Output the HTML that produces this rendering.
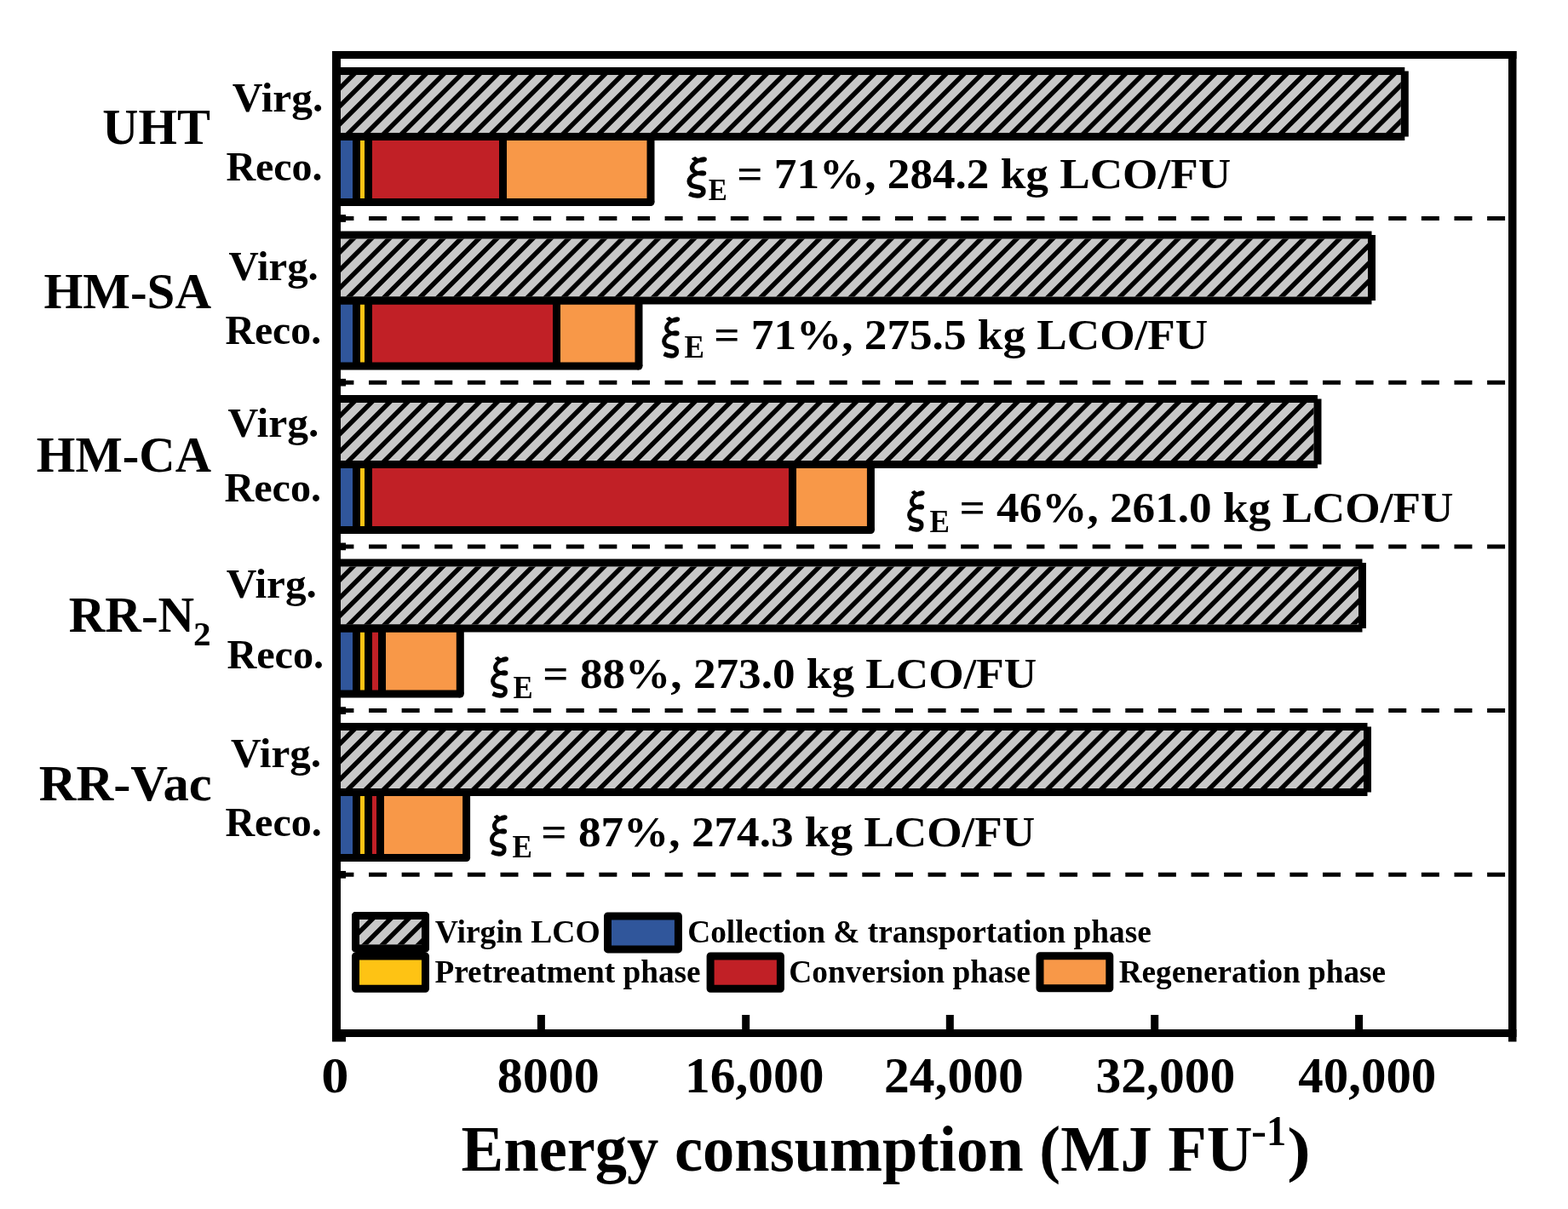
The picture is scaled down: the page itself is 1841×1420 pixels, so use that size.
<!DOCTYPE html>
<html><head><meta charset="utf-8"><style>html,body{margin:0;padding:0;background:#fff;overflow:hidden}svg{display:block}</style></head>
<body>
<svg width="1841" height="1420" viewBox="0 0 1841 1420">
<rect width="1841" height="1420" fill="#fff"/>
<clipPath id="hv0"><rect x="400" y="88.0" width="1244.8" height="68.0"/></clipPath>
<rect x="400" y="88.0" width="1244.8" height="68.0" fill="#C8C8C8"/>
<path clip-path="url(#hv0)" d="M301.49 159.00L375.49 85.00M322.54 159.00L396.54 85.00M343.60 159.00L417.60 85.00M364.66 159.00L438.66 85.00M385.71 159.00L459.71 85.00M406.77 159.00L480.77 85.00M427.83 159.00L501.83 85.00M448.88 159.00L522.88 85.00M469.94 159.00L543.94 85.00M491.00 159.00L565.00 85.00M512.06 159.00L586.06 85.00M533.11 159.00L607.11 85.00M554.17 159.00L628.17 85.00M575.23 159.00L649.23 85.00M596.28 159.00L670.28 85.00M617.34 159.00L691.34 85.00M638.40 159.00L712.40 85.00M659.45 159.00L733.45 85.00M680.51 159.00L754.51 85.00M701.57 159.00L775.57 85.00M722.63 159.00L796.63 85.00M743.68 159.00L817.68 85.00M764.74 159.00L838.74 85.00M785.80 159.00L859.80 85.00M806.85 159.00L880.85 85.00M827.91 159.00L901.91 85.00M848.97 159.00L922.97 85.00M870.02 159.00L944.02 85.00M891.08 159.00L965.08 85.00M912.14 159.00L986.14 85.00M933.20 159.00L1007.20 85.00M954.25 159.00L1028.25 85.00M975.31 159.00L1049.31 85.00M996.37 159.00L1070.37 85.00M1017.42 159.00L1091.42 85.00M1038.48 159.00L1112.48 85.00M1059.54 159.00L1133.54 85.00M1080.60 159.00L1154.60 85.00M1101.65 159.00L1175.65 85.00M1122.71 159.00L1196.71 85.00M1143.77 159.00L1217.77 85.00M1164.82 159.00L1238.82 85.00M1185.88 159.00L1259.88 85.00M1206.94 159.00L1280.94 85.00M1227.99 159.00L1301.99 85.00M1249.05 159.00L1323.05 85.00M1270.11 159.00L1344.11 85.00M1291.16 159.00L1365.16 85.00M1312.22 159.00L1386.22 85.00M1333.28 159.00L1407.28 85.00M1354.34 159.00L1428.34 85.00M1375.39 159.00L1449.39 85.00M1396.45 159.00L1470.45 85.00M1417.51 159.00L1491.51 85.00M1438.56 159.00L1512.56 85.00M1459.62 159.00L1533.62 85.00M1480.68 159.00L1554.68 85.00M1501.73 159.00L1575.73 85.00M1522.79 159.00L1596.79 85.00M1543.85 159.00L1617.85 85.00M1564.91 159.00L1638.91 85.00M1585.96 159.00L1659.96 85.00M1607.02 159.00L1681.02 85.00M1628.08 159.00L1702.08 85.00M1649.13 159.00L1723.13 85.00" stroke="#000" stroke-width="5.515" fill="none"/>
<rect x="395.00" y="160.50" width="23.50" height="77.00" fill="#30569B"/>
<rect x="418.50" y="160.50" width="14.00" height="77.00" fill="#FEC314"/>
<rect x="432.50" y="160.50" width="158.00" height="77.00" fill="#C12026"/>
<rect x="590.50" y="160.50" width="173.50" height="77.00" fill="#F89848"/>
<rect x="395.00" y="79.00" width="1254.30" height="9.00" fill="#000"/>
<rect x="395.00" y="156.00" width="1254.30" height="9.00" fill="#000"/>
<rect x="1644.80" y="83.50" width="9.00" height="77.00" fill="#000"/>
<rect x="390.50" y="83.50" width="9.00" height="77.00" fill="#000"/>
<rect x="395.00" y="156.00" width="369.00" height="9.00" fill="#000"/>
<rect x="395.00" y="233.00" width="369.00" height="9.00" fill="#000"/>
<rect x="759.50" y="160.50" width="9.00" height="77.00" fill="#000"/>
<rect x="390.50" y="160.50" width="9.00" height="77.00" fill="#000"/>
<circle cx="764.0" cy="237.5" r="4.5" fill="#000"/>
<rect x="414.00" y="160.50" width="9.00" height="77.00" fill="#000"/>
<rect x="428.00" y="160.50" width="9.00" height="77.00" fill="#000"/>
<rect x="586.00" y="160.50" width="9.00" height="77.00" fill="#000"/>
<clipPath id="hv1"><rect x="400" y="280.5" width="1206.0" height="68.0"/></clipPath>
<rect x="400" y="280.5" width="1206.0" height="68.0" fill="#C8C8C8"/>
<path clip-path="url(#hv1)" d="M301.49 351.50L375.49 277.50M322.54 351.50L396.54 277.50M343.60 351.50L417.60 277.50M364.66 351.50L438.66 277.50M385.71 351.50L459.71 277.50M406.77 351.50L480.77 277.50M427.83 351.50L501.83 277.50M448.88 351.50L522.88 277.50M469.94 351.50L543.94 277.50M491.00 351.50L565.00 277.50M512.06 351.50L586.06 277.50M533.11 351.50L607.11 277.50M554.17 351.50L628.17 277.50M575.23 351.50L649.23 277.50M596.28 351.50L670.28 277.50M617.34 351.50L691.34 277.50M638.40 351.50L712.40 277.50M659.45 351.50L733.45 277.50M680.51 351.50L754.51 277.50M701.57 351.50L775.57 277.50M722.63 351.50L796.63 277.50M743.68 351.50L817.68 277.50M764.74 351.50L838.74 277.50M785.80 351.50L859.80 277.50M806.85 351.50L880.85 277.50M827.91 351.50L901.91 277.50M848.97 351.50L922.97 277.50M870.03 351.50L944.03 277.50M891.08 351.50L965.08 277.50M912.14 351.50L986.14 277.50M933.20 351.50L1007.20 277.50M954.25 351.50L1028.25 277.50M975.31 351.50L1049.31 277.50M996.37 351.50L1070.37 277.50M1017.42 351.50L1091.42 277.50M1038.48 351.50L1112.48 277.50M1059.54 351.50L1133.54 277.50M1080.60 351.50L1154.60 277.50M1101.65 351.50L1175.65 277.50M1122.71 351.50L1196.71 277.50M1143.77 351.50L1217.77 277.50M1164.82 351.50L1238.82 277.50M1185.88 351.50L1259.88 277.50M1206.94 351.50L1280.94 277.50M1227.99 351.50L1301.99 277.50M1249.05 351.50L1323.05 277.50M1270.11 351.50L1344.11 277.50M1291.16 351.50L1365.16 277.50M1312.22 351.50L1386.22 277.50M1333.28 351.50L1407.28 277.50M1354.34 351.50L1428.34 277.50M1375.39 351.50L1449.39 277.50M1396.45 351.50L1470.45 277.50M1417.51 351.50L1491.51 277.50M1438.56 351.50L1512.56 277.50M1459.62 351.50L1533.62 277.50M1480.68 351.50L1554.68 277.50M1501.74 351.50L1575.74 277.50M1522.79 351.50L1596.79 277.50M1543.85 351.50L1617.85 277.50M1564.91 351.50L1638.91 277.50M1585.96 351.50L1659.96 277.50M1607.02 351.50L1681.02 277.50" stroke="#000" stroke-width="5.515" fill="none"/>
<rect x="395.00" y="353.00" width="23.50" height="77.00" fill="#30569B"/>
<rect x="418.50" y="353.00" width="14.00" height="77.00" fill="#FEC314"/>
<rect x="432.50" y="353.00" width="221.00" height="77.00" fill="#C12026"/>
<rect x="653.50" y="353.00" width="96.50" height="77.00" fill="#F89848"/>
<rect x="395.00" y="271.50" width="1215.50" height="9.00" fill="#000"/>
<rect x="395.00" y="348.50" width="1215.50" height="9.00" fill="#000"/>
<rect x="1606.00" y="276.00" width="9.00" height="77.00" fill="#000"/>
<rect x="390.50" y="276.00" width="9.00" height="77.00" fill="#000"/>
<rect x="395.00" y="348.50" width="355.00" height="9.00" fill="#000"/>
<rect x="395.00" y="425.50" width="355.00" height="9.00" fill="#000"/>
<rect x="745.50" y="353.00" width="9.00" height="77.00" fill="#000"/>
<rect x="390.50" y="353.00" width="9.00" height="77.00" fill="#000"/>
<circle cx="750.0" cy="430.0" r="4.5" fill="#000"/>
<rect x="414.00" y="353.00" width="9.00" height="77.00" fill="#000"/>
<rect x="428.00" y="353.00" width="9.00" height="77.00" fill="#000"/>
<rect x="649.00" y="353.00" width="9.00" height="77.00" fill="#000"/>
<clipPath id="hv2"><rect x="400" y="473.0" width="1142.5" height="68.0"/></clipPath>
<rect x="400" y="473.0" width="1142.5" height="68.0" fill="#C8C8C8"/>
<path clip-path="url(#hv2)" d="M301.49 544.00L375.49 470.00M322.54 544.00L396.54 470.00M343.60 544.00L417.60 470.00M364.66 544.00L438.66 470.00M385.71 544.00L459.71 470.00M406.77 544.00L480.77 470.00M427.83 544.00L501.83 470.00M448.88 544.00L522.88 470.00M469.94 544.00L543.94 470.00M491.00 544.00L565.00 470.00M512.06 544.00L586.06 470.00M533.11 544.00L607.11 470.00M554.17 544.00L628.17 470.00M575.23 544.00L649.23 470.00M596.28 544.00L670.28 470.00M617.34 544.00L691.34 470.00M638.40 544.00L712.40 470.00M659.45 544.00L733.45 470.00M680.51 544.00L754.51 470.00M701.57 544.00L775.57 470.00M722.63 544.00L796.63 470.00M743.68 544.00L817.68 470.00M764.74 544.00L838.74 470.00M785.80 544.00L859.80 470.00M806.85 544.00L880.85 470.00M827.91 544.00L901.91 470.00M848.97 544.00L922.97 470.00M870.03 544.00L944.03 470.00M891.08 544.00L965.08 470.00M912.14 544.00L986.14 470.00M933.20 544.00L1007.20 470.00M954.25 544.00L1028.25 470.00M975.31 544.00L1049.31 470.00M996.37 544.00L1070.37 470.00M1017.42 544.00L1091.42 470.00M1038.48 544.00L1112.48 470.00M1059.54 544.00L1133.54 470.00M1080.60 544.00L1154.60 470.00M1101.65 544.00L1175.65 470.00M1122.71 544.00L1196.71 470.00M1143.77 544.00L1217.77 470.00M1164.82 544.00L1238.82 470.00M1185.88 544.00L1259.88 470.00M1206.94 544.00L1280.94 470.00M1227.99 544.00L1301.99 470.00M1249.05 544.00L1323.05 470.00M1270.11 544.00L1344.11 470.00M1291.16 544.00L1365.16 470.00M1312.22 544.00L1386.22 470.00M1333.28 544.00L1407.28 470.00M1354.34 544.00L1428.34 470.00M1375.39 544.00L1449.39 470.00M1396.45 544.00L1470.45 470.00M1417.51 544.00L1491.51 470.00M1438.56 544.00L1512.56 470.00M1459.62 544.00L1533.62 470.00M1480.68 544.00L1554.68 470.00M1501.74 544.00L1575.74 470.00M1522.79 544.00L1596.79 470.00M1543.85 544.00L1617.85 470.00" stroke="#000" stroke-width="5.515" fill="none"/>
<rect x="395.00" y="545.50" width="23.50" height="77.00" fill="#30569B"/>
<rect x="418.50" y="545.50" width="14.00" height="77.00" fill="#FEC314"/>
<rect x="432.50" y="545.50" width="498.00" height="77.00" fill="#C12026"/>
<rect x="930.50" y="545.50" width="91.90" height="77.00" fill="#F89848"/>
<rect x="395.00" y="464.00" width="1152.00" height="9.00" fill="#000"/>
<rect x="395.00" y="541.00" width="1152.00" height="9.00" fill="#000"/>
<rect x="1542.50" y="468.50" width="9.00" height="77.00" fill="#000"/>
<rect x="390.50" y="468.50" width="9.00" height="77.00" fill="#000"/>
<rect x="395.00" y="541.00" width="627.40" height="9.00" fill="#000"/>
<rect x="395.00" y="618.00" width="627.40" height="9.00" fill="#000"/>
<rect x="1017.90" y="545.50" width="9.00" height="77.00" fill="#000"/>
<rect x="390.50" y="545.50" width="9.00" height="77.00" fill="#000"/>
<circle cx="1022.4" cy="622.5" r="4.5" fill="#000"/>
<rect x="414.00" y="545.50" width="9.00" height="77.00" fill="#000"/>
<rect x="428.00" y="545.50" width="9.00" height="77.00" fill="#000"/>
<rect x="926.00" y="545.50" width="9.00" height="77.00" fill="#000"/>
<clipPath id="hv3"><rect x="400" y="665.5" width="1195.0" height="68.0"/></clipPath>
<rect x="400" y="665.5" width="1195.0" height="68.0" fill="#C8C8C8"/>
<path clip-path="url(#hv3)" d="M301.49 736.50L375.49 662.50M322.54 736.50L396.54 662.50M343.60 736.50L417.60 662.50M364.66 736.50L438.66 662.50M385.71 736.50L459.71 662.50M406.77 736.50L480.77 662.50M427.83 736.50L501.83 662.50M448.89 736.50L522.89 662.50M469.94 736.50L543.94 662.50M491.00 736.50L565.00 662.50M512.06 736.50L586.06 662.50M533.11 736.50L607.11 662.50M554.17 736.50L628.17 662.50M575.23 736.50L649.23 662.50M596.28 736.50L670.28 662.50M617.34 736.50L691.34 662.50M638.40 736.50L712.40 662.50M659.46 736.50L733.46 662.50M680.51 736.50L754.51 662.50M701.57 736.50L775.57 662.50M722.63 736.50L796.63 662.50M743.68 736.50L817.68 662.50M764.74 736.50L838.74 662.50M785.80 736.50L859.80 662.50M806.85 736.50L880.85 662.50M827.91 736.50L901.91 662.50M848.97 736.50L922.97 662.50M870.03 736.50L944.03 662.50M891.08 736.50L965.08 662.50M912.14 736.50L986.14 662.50M933.20 736.50L1007.20 662.50M954.25 736.50L1028.25 662.50M975.31 736.50L1049.31 662.50M996.37 736.50L1070.37 662.50M1017.42 736.50L1091.42 662.50M1038.48 736.50L1112.48 662.50M1059.54 736.50L1133.54 662.50M1080.60 736.50L1154.60 662.50M1101.65 736.50L1175.65 662.50M1122.71 736.50L1196.71 662.50M1143.77 736.50L1217.77 662.50M1164.82 736.50L1238.82 662.50M1185.88 736.50L1259.88 662.50M1206.94 736.50L1280.94 662.50M1227.99 736.50L1301.99 662.50M1249.05 736.50L1323.05 662.50M1270.11 736.50L1344.11 662.50M1291.16 736.50L1365.16 662.50M1312.22 736.50L1386.22 662.50M1333.28 736.50L1407.28 662.50M1354.34 736.50L1428.34 662.50M1375.39 736.50L1449.39 662.50M1396.45 736.50L1470.45 662.50M1417.51 736.50L1491.51 662.50M1438.56 736.50L1512.56 662.50M1459.62 736.50L1533.62 662.50M1480.68 736.50L1554.68 662.50M1501.74 736.50L1575.74 662.50M1522.79 736.50L1596.79 662.50M1543.85 736.50L1617.85 662.50M1564.91 736.50L1638.91 662.50M1585.96 736.50L1659.96 662.50M1607.02 736.50L1681.02 662.50" stroke="#000" stroke-width="5.515" fill="none"/>
<rect x="395.00" y="738.00" width="23.50" height="77.00" fill="#30569B"/>
<rect x="418.50" y="738.00" width="14.00" height="77.00" fill="#FEC314"/>
<rect x="432.50" y="738.00" width="16.00" height="77.00" fill="#C12026"/>
<rect x="448.50" y="738.00" width="91.80" height="77.00" fill="#F89848"/>
<rect x="395.00" y="656.50" width="1204.50" height="9.00" fill="#000"/>
<rect x="395.00" y="733.50" width="1204.50" height="9.00" fill="#000"/>
<rect x="1595.00" y="661.00" width="9.00" height="77.00" fill="#000"/>
<rect x="390.50" y="661.00" width="9.00" height="77.00" fill="#000"/>
<rect x="395.00" y="733.50" width="145.30" height="9.00" fill="#000"/>
<rect x="395.00" y="810.50" width="145.30" height="9.00" fill="#000"/>
<rect x="535.80" y="738.00" width="9.00" height="77.00" fill="#000"/>
<rect x="390.50" y="738.00" width="9.00" height="77.00" fill="#000"/>
<circle cx="540.3" cy="815.0" r="4.5" fill="#000"/>
<rect x="414.00" y="738.00" width="9.00" height="77.00" fill="#000"/>
<rect x="428.00" y="738.00" width="9.00" height="77.00" fill="#000"/>
<rect x="444.00" y="738.00" width="9.00" height="77.00" fill="#000"/>
<clipPath id="hv4"><rect x="400" y="858.0" width="1201.0" height="68.0"/></clipPath>
<rect x="400" y="858.0" width="1201.0" height="68.0" fill="#C8C8C8"/>
<path clip-path="url(#hv4)" d="M301.49 929.00L375.49 855.00M322.54 929.00L396.54 855.00M343.60 929.00L417.60 855.00M364.66 929.00L438.66 855.00M385.71 929.00L459.71 855.00M406.77 929.00L480.77 855.00M427.83 929.00L501.83 855.00M448.89 929.00L522.89 855.00M469.94 929.00L543.94 855.00M491.00 929.00L565.00 855.00M512.06 929.00L586.06 855.00M533.11 929.00L607.11 855.00M554.17 929.00L628.17 855.00M575.23 929.00L649.23 855.00M596.28 929.00L670.28 855.00M617.34 929.00L691.34 855.00M638.40 929.00L712.40 855.00M659.46 929.00L733.46 855.00M680.51 929.00L754.51 855.00M701.57 929.00L775.57 855.00M722.63 929.00L796.63 855.00M743.68 929.00L817.68 855.00M764.74 929.00L838.74 855.00M785.80 929.00L859.80 855.00M806.85 929.00L880.85 855.00M827.91 929.00L901.91 855.00M848.97 929.00L922.97 855.00M870.03 929.00L944.03 855.00M891.08 929.00L965.08 855.00M912.14 929.00L986.14 855.00M933.20 929.00L1007.20 855.00M954.25 929.00L1028.25 855.00M975.31 929.00L1049.31 855.00M996.37 929.00L1070.37 855.00M1017.42 929.00L1091.42 855.00M1038.48 929.00L1112.48 855.00M1059.54 929.00L1133.54 855.00M1080.60 929.00L1154.60 855.00M1101.65 929.00L1175.65 855.00M1122.71 929.00L1196.71 855.00M1143.77 929.00L1217.77 855.00M1164.82 929.00L1238.82 855.00M1185.88 929.00L1259.88 855.00M1206.94 929.00L1280.94 855.00M1227.99 929.00L1301.99 855.00M1249.05 929.00L1323.05 855.00M1270.11 929.00L1344.11 855.00M1291.16 929.00L1365.16 855.00M1312.22 929.00L1386.22 855.00M1333.28 929.00L1407.28 855.00M1354.34 929.00L1428.34 855.00M1375.39 929.00L1449.39 855.00M1396.45 929.00L1470.45 855.00M1417.51 929.00L1491.51 855.00M1438.56 929.00L1512.56 855.00M1459.62 929.00L1533.62 855.00M1480.68 929.00L1554.68 855.00M1501.74 929.00L1575.74 855.00M1522.79 929.00L1596.79 855.00M1543.85 929.00L1617.85 855.00M1564.91 929.00L1638.91 855.00M1585.96 929.00L1659.96 855.00M1607.02 929.00L1681.02 855.00" stroke="#000" stroke-width="5.515" fill="none"/>
<rect x="395.00" y="930.50" width="23.50" height="77.00" fill="#30569B"/>
<rect x="418.50" y="930.50" width="14.00" height="77.00" fill="#FEC314"/>
<rect x="432.50" y="930.50" width="14.00" height="77.00" fill="#C12026"/>
<rect x="446.50" y="930.50" width="101.10" height="77.00" fill="#F89848"/>
<rect x="395.00" y="849.00" width="1210.50" height="9.00" fill="#000"/>
<rect x="395.00" y="926.00" width="1210.50" height="9.00" fill="#000"/>
<rect x="1601.00" y="853.50" width="9.00" height="77.00" fill="#000"/>
<rect x="390.50" y="853.50" width="9.00" height="77.00" fill="#000"/>
<rect x="395.00" y="926.00" width="152.60" height="9.00" fill="#000"/>
<rect x="395.00" y="1003.00" width="152.60" height="9.00" fill="#000"/>
<rect x="543.10" y="930.50" width="9.00" height="77.00" fill="#000"/>
<rect x="390.50" y="930.50" width="9.00" height="77.00" fill="#000"/>
<circle cx="547.6" cy="1007.5" r="4.5" fill="#000"/>
<rect x="414.00" y="930.50" width="9.00" height="77.00" fill="#000"/>
<rect x="428.00" y="930.50" width="9.00" height="77.00" fill="#000"/>
<rect x="442.00" y="930.50" width="9.00" height="77.00" fill="#000"/>
<line x1="394.4" y1="256.5" x2="1771" y2="256.5" stroke="#000" stroke-width="5" stroke-dasharray="21 17.62"/>
<line x1="394.4" y1="449.2" x2="1771" y2="449.2" stroke="#000" stroke-width="5" stroke-dasharray="21 17.62"/>
<line x1="394.4" y1="641.9" x2="1771" y2="641.9" stroke="#000" stroke-width="5" stroke-dasharray="21 17.62"/>
<line x1="394.4" y1="834.5999999999999" x2="1771" y2="834.5999999999999" stroke="#000" stroke-width="5" stroke-dasharray="21 17.62"/>
<line x1="394.4" y1="1027.3" x2="1771" y2="1027.3" stroke="#000" stroke-width="5" stroke-dasharray="21 17.62"/>
<rect x="390.00" y="60.00" width="10.00" height="1163.50" fill="#000"/>
<rect x="1771.00" y="60.00" width="9.50" height="1163.50" fill="#000"/>
<rect x="390.00" y="60.00" width="1390.50" height="9.00" fill="#000"/>
<rect x="390.00" y="1209.00" width="1390.50" height="9.00" fill="#000"/>
<rect x="630.90" y="1192.00" width="9.00" height="17.00" fill="#000"/>
<rect x="871.20" y="1192.00" width="9.00" height="17.00" fill="#000"/>
<rect x="1110.80" y="1192.00" width="9.00" height="17.00" fill="#000"/>
<rect x="1351.20" y="1192.00" width="9.00" height="17.00" fill="#000"/>
<rect x="1591.10" y="1192.00" width="9.00" height="17.00" fill="#000"/>
<rect x="400.00" y="252.15" width="6.00" height="8.70" fill="#000"/>
<rect x="400.00" y="444.85" width="6.00" height="8.70" fill="#000"/>
<rect x="400.00" y="637.55" width="6.00" height="8.70" fill="#000"/>
<rect x="400.00" y="830.25" width="6.00" height="8.70" fill="#000"/>
<rect x="400.00" y="1022.95" width="6.00" height="8.70" fill="#000"/>
<rect x="400.00" y="1215.65" width="6.00" height="7.85" fill="#000"/>
<rect x="417.5" y="1075.5" width="82" height="38.5" rx="0" fill="none" stroke="#000" stroke-width="9" stroke-linejoin="round"/>
<clipPath id="hl"><rect x="422" y="1080" width="73" height="29.5"/></clipPath>
<rect x="422" y="1080" width="73" height="29.5" fill="#C8C8C8"/>
<path clip-path="url(#hl)" d="M361.99 1112.50L397.49 1077.00M383.04 1112.50L418.54 1077.00M404.10 1112.50L439.60 1077.00M425.16 1112.50L460.66 1077.00M446.21 1112.50L481.71 1077.00M467.27 1112.50L502.77 1077.00M488.33 1112.50L523.83 1077.00M509.39 1112.50L544.89 1077.00" stroke="#000" stroke-width="5.515" fill="none"/>
<rect x="417.5" y="1075.5" width="82" height="38.5" fill="none" stroke="#000" stroke-width="9" stroke-linejoin="round"/>
<rect x="713.5" y="1075.9" width="82.89999999999998" height="39.0" rx="0" fill="#30569B" stroke="#000" stroke-width="9" stroke-linejoin="round"/>
<rect x="417.5" y="1123.0" width="82" height="38.200000000000045" rx="0" fill="#FEC314" stroke="#000" stroke-width="9" stroke-linejoin="round"/>
<rect x="417.50" y="1113.00" width="82.00" height="10.00" fill="#000"/>
<rect x="834.1" y="1123.0" width="82.29999999999995" height="38.200000000000045" rx="0" fill="#C12026" stroke="#000" stroke-width="9" stroke-linejoin="round"/>
<rect x="1221.0" y="1122.7" width="81.79999999999995" height="38.09999999999991" rx="0" fill="#F89848" stroke="#000" stroke-width="9" stroke-linejoin="round"/>
<text x="120.35" y="168.70" font-family="'Liberation Serif','Times New Roman',serif" font-size="59.50" font-weight="bold" textLength="126.54" lengthAdjust="spacingAndGlyphs">UHT</text>
<text x="51.39" y="362.10" font-family="'Liberation Serif','Times New Roman',serif" font-size="59.50" font-weight="bold" textLength="196.64" lengthAdjust="spacingAndGlyphs">HM-SA</text>
<text x="42.80" y="553.60" font-family="'Liberation Serif','Times New Roman',serif" font-size="59.50" font-weight="bold" textLength="205.23" lengthAdjust="spacingAndGlyphs">HM-CA</text>
<text x="80.79" y="742.10" font-family="'Liberation Serif','Times New Roman',serif" font-size="59.50" font-weight="bold" textLength="147.28" lengthAdjust="spacingAndGlyphs">RR-N</text>
<text x="227.07" y="757.90" font-family="'Liberation Serif','Times New Roman',serif" font-size="39.27" font-weight="bold" textLength="20.60" lengthAdjust="spacingAndGlyphs">2</text>
<text x="45.69" y="939.70" font-family="'Liberation Serif','Times New Roman',serif" font-size="59.50" font-weight="bold" textLength="202.98" lengthAdjust="spacingAndGlyphs">RR-Vac</text>
<text x="272.75" y="131.20" font-family="'Liberation Serif','Times New Roman',serif" font-size="49.30" font-weight="bold" textLength="106.68" lengthAdjust="spacingAndGlyphs">Virg.</text>
<text x="265.38" y="212.30" font-family="'Liberation Serif','Times New Roman',serif" font-size="49.30" font-weight="bold" textLength="113.23" lengthAdjust="spacingAndGlyphs">Reco.</text>
<text x="268.56" y="328.50" font-family="'Liberation Serif','Times New Roman',serif" font-size="49.30" font-weight="bold" textLength="105.25" lengthAdjust="spacingAndGlyphs">Virg.</text>
<text x="264.48" y="404.00" font-family="'Liberation Serif','Times New Roman',serif" font-size="49.30" font-weight="bold" textLength="112.61" lengthAdjust="spacingAndGlyphs">Reco.</text>
<text x="267.55" y="513.30" font-family="'Liberation Serif','Times New Roman',serif" font-size="49.30" font-weight="bold" textLength="106.89" lengthAdjust="spacingAndGlyphs">Virg.</text>
<text x="263.48" y="588.80" font-family="'Liberation Serif','Times New Roman',serif" font-size="49.30" font-weight="bold" textLength="113.64" lengthAdjust="spacingAndGlyphs">Reco.</text>
<text x="265.66" y="702.20" font-family="'Liberation Serif','Times New Roman',serif" font-size="49.30" font-weight="bold" textLength="106.27" lengthAdjust="spacingAndGlyphs">Virg.</text>
<text x="266.38" y="785.10" font-family="'Liberation Serif','Times New Roman',serif" font-size="49.30" font-weight="bold" textLength="113.74" lengthAdjust="spacingAndGlyphs">Reco.</text>
<text x="271.06" y="901.00" font-family="'Liberation Serif','Times New Roman',serif" font-size="49.30" font-weight="bold" textLength="106.07" lengthAdjust="spacingAndGlyphs">Virg.</text>
<text x="264.48" y="981.70" font-family="'Liberation Serif','Times New Roman',serif" font-size="49.30" font-weight="bold" textLength="113.23" lengthAdjust="spacingAndGlyphs">Reco.</text>
<text x="793.92" y="227.04" font-family="IPAGothic, sans-serif" font-size="54.57" stroke="#000" stroke-width="1.6" stroke-linejoin="round" textLength="49.90" lengthAdjust="spacingAndGlyphs">ξ</text>
<text x="831.63" y="234.80" font-family="'Liberation Serif','Times New Roman',serif" font-size="36.04" font-weight="bold" textLength="22.06" lengthAdjust="spacingAndGlyphs">E</text>
<text x="865.25" y="220.80" font-family="'Liberation Serif','Times New Roman',serif" font-size="51.70" font-weight="bold" textLength="579.87" lengthAdjust="spacingAndGlyphs">= 71%, 284.2 kg LCO/FU</text>
<text x="765.90" y="414.68" font-family="IPAGothic, sans-serif" font-size="54.11" stroke="#000" stroke-width="1.6" stroke-linejoin="round" textLength="44.68" lengthAdjust="spacingAndGlyphs">ξ</text>
<text x="803.60" y="419.80" font-family="'Liberation Serif','Times New Roman',serif" font-size="37.11" font-weight="bold" textLength="23.40" lengthAdjust="spacingAndGlyphs">E</text>
<text x="838.25" y="409.90" font-family="'Liberation Serif','Times New Roman',serif" font-size="51.70" font-weight="bold" textLength="579.97" lengthAdjust="spacingAndGlyphs">= 71%, 275.5 kg LCO/FU</text>
<text x="1054.20" y="618.95" font-family="IPAGothic, sans-serif" font-size="54.46" stroke="#000" stroke-width="1.6" stroke-linejoin="round" textLength="43.55" lengthAdjust="spacingAndGlyphs">ξ</text>
<text x="1091.60" y="624.80" font-family="'Liberation Serif','Times New Roman',serif" font-size="37.42" font-weight="bold" textLength="23.40" lengthAdjust="spacingAndGlyphs">E</text>
<text x="1126.45" y="612.60" font-family="'Liberation Serif','Times New Roman',serif" font-size="51.70" font-weight="bold" textLength="579.87" lengthAdjust="spacingAndGlyphs">= 46%, 261.0 kg LCO/FU</text>
<text x="565.06" y="813.58" font-family="IPAGothic, sans-serif" font-size="54.11" stroke="#000" stroke-width="1.6" stroke-linejoin="round" textLength="44.45" lengthAdjust="spacingAndGlyphs">ξ</text>
<text x="602.61" y="819.70" font-family="'Liberation Serif','Times New Roman',serif" font-size="37.87" font-weight="bold" textLength="23.18" lengthAdjust="spacingAndGlyphs">E</text>
<text x="637.35" y="807.80" font-family="'Liberation Serif','Times New Roman',serif" font-size="51.70" font-weight="bold" textLength="579.87" lengthAdjust="spacingAndGlyphs">= 88%, 273.0 kg LCO/FU</text>
<text x="564.08" y="1000.08" font-family="IPAGothic, sans-serif" font-size="54.11" stroke="#000" stroke-width="1.6" stroke-linejoin="round" textLength="44.00" lengthAdjust="spacingAndGlyphs">ξ</text>
<text x="601.60" y="1006.80" font-family="'Liberation Serif','Times New Roman',serif" font-size="37.87" font-weight="bold" textLength="23.40" lengthAdjust="spacingAndGlyphs">E</text>
<text x="635.35" y="993.90" font-family="'Liberation Serif','Times New Roman',serif" font-size="51.70" font-weight="bold" textLength="579.87" lengthAdjust="spacingAndGlyphs">= 87%, 274.3 kg LCO/FU</text>
<text x="377.15" y="1283.42" font-family="'Liberation Serif','Times New Roman',serif" font-size="59.30" font-weight="bold" textLength="32.21" lengthAdjust="spacingAndGlyphs">0</text>
<text x="583.71" y="1283.42" font-family="'Liberation Serif','Times New Roman',serif" font-size="59.30" font-weight="bold" textLength="120.08" lengthAdjust="spacingAndGlyphs">8000</text>
<text x="803.94" y="1283.42" font-family="'Liberation Serif','Times New Roman',serif" font-size="59.30" font-weight="bold" textLength="163.53" lengthAdjust="spacingAndGlyphs">16,000</text>
<text x="1038.00" y="1283.42" font-family="'Liberation Serif','Times New Roman',serif" font-size="59.30" font-weight="bold" textLength="163.77" lengthAdjust="spacingAndGlyphs">24,000</text>
<text x="1286.46" y="1283.42" font-family="'Liberation Serif','Times New Roman',serif" font-size="59.30" font-weight="bold" textLength="163.81" lengthAdjust="spacingAndGlyphs">32,000</text>
<text x="1524.29" y="1283.42" font-family="'Liberation Serif','Times New Roman',serif" font-size="59.30" font-weight="bold" textLength="162.05" lengthAdjust="spacingAndGlyphs">40,000</text>
<text x="510.68" y="1106.70" font-family="'Liberation Serif','Times New Roman',serif" font-size="37.40" font-weight="bold" textLength="194.04" lengthAdjust="spacingAndGlyphs">Virgin LCO</text>
<text x="807.18" y="1106.70" font-family="'Liberation Serif','Times New Roman',serif" font-size="37.40" font-weight="bold" textLength="544.59" lengthAdjust="spacingAndGlyphs">Collection &amp; transportation phase</text>
<text x="510.47" y="1153.50" font-family="'Liberation Serif','Times New Roman',serif" font-size="37.40" font-weight="bold" textLength="312.19" lengthAdjust="spacingAndGlyphs">Pretreatment phase</text>
<text x="926.37" y="1153.70" font-family="'Liberation Serif','Times New Roman',serif" font-size="37.40" font-weight="bold" textLength="283.49" lengthAdjust="spacingAndGlyphs">Conversion phase</text>
<text x="1313.66" y="1153.70" font-family="'Liberation Serif','Times New Roman',serif" font-size="37.40" font-weight="bold" textLength="313.50" lengthAdjust="spacingAndGlyphs">Regeneration phase</text>
<text x="541.53" y="1375.00" font-family="'Liberation Serif','Times New Roman',serif" font-size="75.60" font-weight="bold" textLength="929.13" lengthAdjust="spacingAndGlyphs">Energy consumption (MJ FU</text>
<text x="1469.01" y="1345.10" font-family="'Liberation Serif','Times New Roman',serif" font-size="50.10" font-weight="bold" textLength="18.08" lengthAdjust="spacingAndGlyphs">-</text>
<text x="1487.08" y="1345.10" font-family="'Liberation Serif','Times New Roman',serif" font-size="50.10" font-weight="bold" textLength="23.22" lengthAdjust="spacingAndGlyphs">1</text>
<text x="1511.24" y="1374.40" font-family="'Liberation Serif','Times New Roman',serif" font-size="71.40" font-weight="bold" textLength="27.49" lengthAdjust="spacingAndGlyphs">)</text>
</svg>
</body></html>
